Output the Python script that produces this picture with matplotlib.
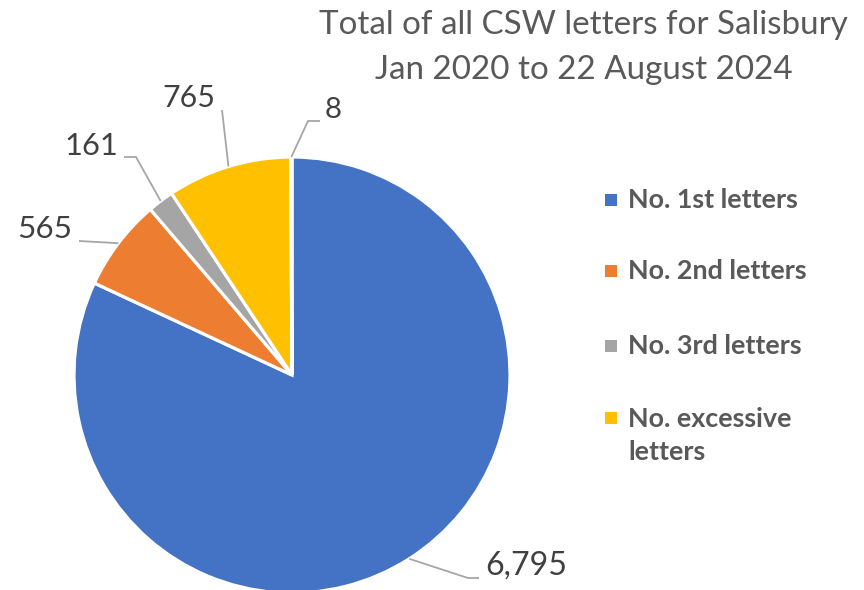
import numpy as np
import matplotlib
matplotlib.use("Agg")
import matplotlib.pyplot as plt
from matplotlib.patches import Rectangle

# ---- data ----
categories = ["No. 1st letters", "No. 2nd letters", "No. 3rd letters", "No. excessive\nletters", ""]
values = [6795, 565, 161, 765, 8]
value_labels = ["6,795", "565", "161", "765", "8"]
colors = ["#4472C4", "#ED7D31", "#A5A5A5", "#FFC000", "#5B9BD5"]
title_lines = ["Total of all CSW letters for Salisbury", "Jan 2020 to 22 August 2024"]

W, H = 864, 590
plt.rcParams['font.family'] = ['Lato', 'DejaVu Sans']
fig = plt.figure(figsize=(W / 100, H / 100), dpi=100)
ax = fig.add_axes([0, 0, 1, 1])

def Y(y):
    return H - y

cx, cy, R = 292, 375, 218
wedges, _ = ax.pie(values, colors=colors, startangle=90, counterclock=False,
                   center=(cx, Y(cy)), radius=R,
                   wedgeprops=dict(edgecolor="white", linewidth=2.3))
ax.set_xlim(0, W)
ax.set_ylim(0, H)
ax.set_aspect("equal")
ax.axis("off")

renderer = fig.canvas.get_renderer()

def fit(t, target_w):
    bb = t.get_window_extent(renderer=renderer)
    t.set_fontsize(t.get_fontsize() * target_w / bb.width)

# ---- data labels with leader lines ----
label_layout = [
    dict(x=485, y=566, ha="left", w=82, pts=[(468, 578), (479, 578)]),
    dict(x=72, y=229, ha="right", w=55, pts=[(79, 241)]),
    dict(x=118, y=146, ha="right", w=54, pts=[(136, 157), (124, 157)]),
    dict(x=189, y=98, ha="center", w=53, pts=[(222, 110)]),
    dict(x=325, y=110, ha="left", w=17, pts=[(308, 121), (320, 121)]),
]
line_color = "#A6A6A6"
for w, lab, lay in zip(wedges, value_labels, label_layout):
    mid = np.deg2rad((w.theta1 + w.theta2) / 2)
    ax_x = cx + R * np.cos(mid)
    ax_y = Y(cy) + R * np.sin(mid)
    xs = [ax_x] + [p[0] for p in lay["pts"]]
    ys = [ax_y] + [Y(p[1]) for p in lay["pts"]]
    ax.plot(xs, ys, color=line_color, lw=1.3, solid_capstyle="butt")
    t = ax.text(lay["x"], Y(lay["y"]), lab, ha=lay["ha"], va="center",
                fontsize=26, color="#404040")
    fit(t, lay["w"])

# ---- title ----
t1 = ax.text(583, Y(25), title_lines[0], ha="center", va="center", fontsize=24, color="#595959")
fit(t1, 530)
t2 = ax.text(584, Y(70), title_lines[1], ha="center", va="center",
             fontsize=t1.get_fontsize(), color="#595959")

# ---- legend ----
leg_y = [200, 271, 346, 418]
legend_fs = None
for lab, col, yy in zip(categories[:4], colors[:4], leg_y):
    ax.add_patch(Rectangle((605, Y(yy) - 6), 12, 12, facecolor=col, edgecolor="none"))
    multi = "\n" in lab
    t = ax.text(628, Y(yy - 11) if multi else Y(yy), lab, ha="left",
                va="top" if multi else "center",
                fontsize=18, fontweight="bold", color="#595959", linespacing=1.45)
    if legend_fs is None:
        fit(t, 170)
        legend_fs = t.get_fontsize()
    else:
        t.set_fontsize(legend_fs)

fig.savefig("out.png", dpi=100)
